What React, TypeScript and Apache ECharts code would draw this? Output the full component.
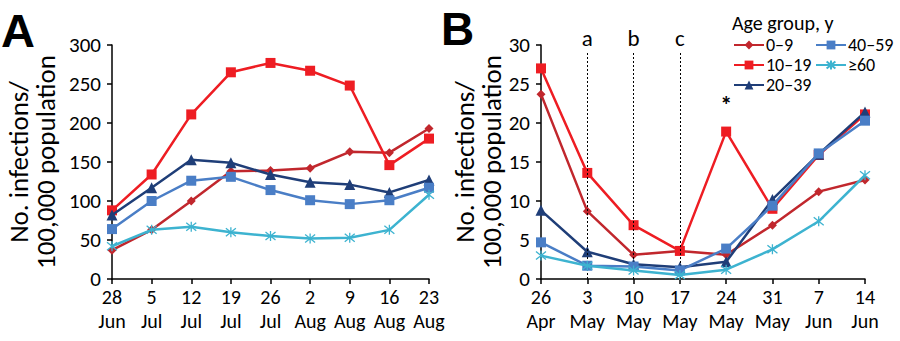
import React, { useEffect, useRef } from 'react';
import * as echarts from 'echarts';

const groups = ['0–9', '10–19', '20–39', '40–59', '≥60'];
const colors = ['#C1272D', '#EE1D23', '#1F3E78', '#4A7EC6', '#3DB3D0'];

const weeksA = ['28\nJun', '5\nJul', '12\nJul', '19\nJul', '26\nJul', '2\nAug', '9\nAug', '16\nAug', '23\nAug'];
const weeksB = ['26\nApr', '3\nMay', '10\nMay', '17\nMay', '24\nMay', '31\nMay', '7\nJun', '14\nJun'];

const a_0_9 = [37, 63, 100, 138, 139, 142, 163, 162, 193];
const a_10_19 = [88, 134, 211, 265, 277, 267, 248, 146, 180];
const a_20_39 = [82, 117, 153, 149, 134, 124, 121, 111, 127];
const a_40_59 = [64, 100, 126, 131, 114, 101, 96, 101, 117];
const a_60 = [42, 63, 67, 60, 55, 52, 53, 63, 108];

const b_0_9 = [23.7, 8.7, 3.1, 3.6, 3.1, 6.9, 11.2, 12.7];
const b_10_19 = [27.0, 13.6, 6.9, 3.6, 18.9, 9.0, 15.9, 21.1];
const b_20_39 = [8.8, 3.5, 1.9, 1.5, 2.2, 10.2, 16.0, 21.4];
const b_40_59 = [4.7, 1.7, 1.6, 1.1, 3.9, 9.4, 16.1, 20.3];
const b_60 = [3.0, 1.7, 1.1, 0.5, 1.2, 3.8, 7.4, 13.3];

const markerLines = [
  { week: '3\nMay', label: 'a' },
  { week: '10\nMay', label: 'b' },
  { week: '17\nMay', label: 'c' },
];
const starWeek = '24\nMay';

const FONT = 'Carlito, Calibri, Lato, sans-serif';

const symbols = [
  'diamond',
  'rect',
  'triangle',
  'rect',
  'path://M5,0L5,10M1,1L9,9M9,1L1,9',
];
const symbolSizes = [9, 10, 11, 10, 10];

export default function App() {
  const ref = useRef<HTMLDivElement>(null);
  useEffect(() => {
    if (!ref.current) return;
    const chart = echarts.init(ref.current, null, { renderer: 'svg' });
    const dataA = [a_0_9, a_10_19, a_20_39, a_40_59, a_60];
    const dataB = [b_0_9, b_10_19, b_20_39, b_40_59, b_60];

    const mkSeries = (i: number, panel: number, data: number[]) => {
      const isStar = i === 4;
      const s: any = {
        type: 'line',
        name: groups[i],
        xAxisIndex: panel,
        yAxisIndex: panel,
        data,
        symbol: symbols[i],
        symbolSize: symbolSizes[i],
        showAllSymbol: true,
        lineStyle: { color: colors[i], width: 2.5 },
        itemStyle: isStar
          ? { color: colors[i], borderColor: colors[i], borderWidth: 1.3 }
          : { color: colors[i], borderWidth: 0 },
        z: 2 + i,
      };
      return s;
    };

    const series: any[] = [];
    for (let i = 0; i < 5; i++) series.push(mkSeries(i, 0, dataA[i]));
    for (let i = 0; i < 5; i++) series.push(mkSeries(i, 1, dataB[i]));

    series[5].markLine = {
      silent: true,
      symbol: 'none',
      lineStyle: { type: [2, 2], color: '#000', width: 1 },
      label: {
        show: true,
        position: 'end',
        formatter: (p: any) => p.name,
        fontSize: 23,
        color: '#000',
        fontFamily: FONT,
        distance: 2,
      },
      data: markerLines.map((m) => [
        { coord: [m.week, 0], name: m.label },
        { coord: [m.week, 29.2] },
      ]),
    };
    series[6].markPoint = {
      silent: true,
      symbol: 'circle',
      symbolSize: 0,
      label: { show: true, formatter: '*', fontSize: 24, color: '#000', fontFamily: FONT, fontWeight: 'bold' },
      data: [{ coord: [starWeek, 22.4] }],
    };

    const axisCommon = {
      axisLine: { show: true, lineStyle: { color: '#000', width: 1.5 } },
      axisTick: { show: true, length: 5, lineStyle: { color: '#000', width: 1.5 } },
      splitLine: { show: false },
    };

    const xLabel = { color: '#000', fontSize: 20, fontFamily: FONT, lineHeight: 24, margin: 6, interval: 0 };
    const yLabel = { color: '#000', fontSize: 21, fontFamily: FONT, margin: 11 };
    const nameStyle = { color: '#000', fontSize: 27, fontFamily: FONT, lineHeight: 27 };

    const legendCommon = {
      orient: 'vertical',
      itemWidth: 30,
      itemHeight: 11,
      itemGap: 0,
      textStyle: { fontSize: 18, lineHeight: 20, color: '#000', fontFamily: FONT, padding: [0, 0, 0, -3] },
      padding: 0,
      selectedMode: false,
    };

    chart.setOption({
      animation: false,
      textStyle: { fontFamily: FONT },
      grid: [
        { left: 112, right: 471, top: 45, bottom: 62 },
        { left: 541, right: 35, top: 45, bottom: 62 },
      ],
      xAxis: [
        { type: 'category', gridIndex: 0, data: weeksA, boundaryGap: false, ...axisCommon, axisLabel: xLabel },
        { type: 'category', gridIndex: 1, data: weeksB, boundaryGap: false, ...axisCommon, axisLabel: xLabel },
      ],
      yAxis: [
        {
          type: 'value', gridIndex: 0, min: 0, max: 300, interval: 50, ...axisCommon, axisLabel: yLabel,
          name: 'No. infections/\n100,000 population', nameLocation: 'middle', nameRotate: 90, nameGap: 53,
          nameTextStyle: nameStyle,
        },
        {
          type: 'value', gridIndex: 1, min: 0, max: 30, interval: 5, ...axisCommon, axisLabel: yLabel,
          name: 'No. infections/\n100,000 population', nameLocation: 'middle', nameRotate: 90, nameGap: 36,
          nameTextStyle: nameStyle,
        },
      ],
      legend: [
        { ...legendCommon, data: groups.slice(0, 3), left: 733, top: 35 },
        { ...legendCommon, data: groups.slice(3), left: 815, top: 35 },
      ],
      graphic: [
        { type: 'text', left: 1, top: 7, style: { text: 'A', font: 'bold 47px "Liberation Sans", Arial, sans-serif', lineHeight: 40, fill: '#000' } },
        { type: 'text', left: 441, top: 6, style: { text: 'B', font: 'bold 46px "Liberation Sans", Arial, sans-serif', lineHeight: 40, fill: '#000' } },
        { type: 'text', left: 732, top: 13, style: { text: 'Age group, y', font: `20px ${FONT}`, fill: '#000' } },
      ],
      series,
    });
    return () => chart.dispose();
  }, []);
  return <div ref={ref} style={{ position: 'absolute', left: 0, top: 0, width: 900, height: 341 }} />;
}
